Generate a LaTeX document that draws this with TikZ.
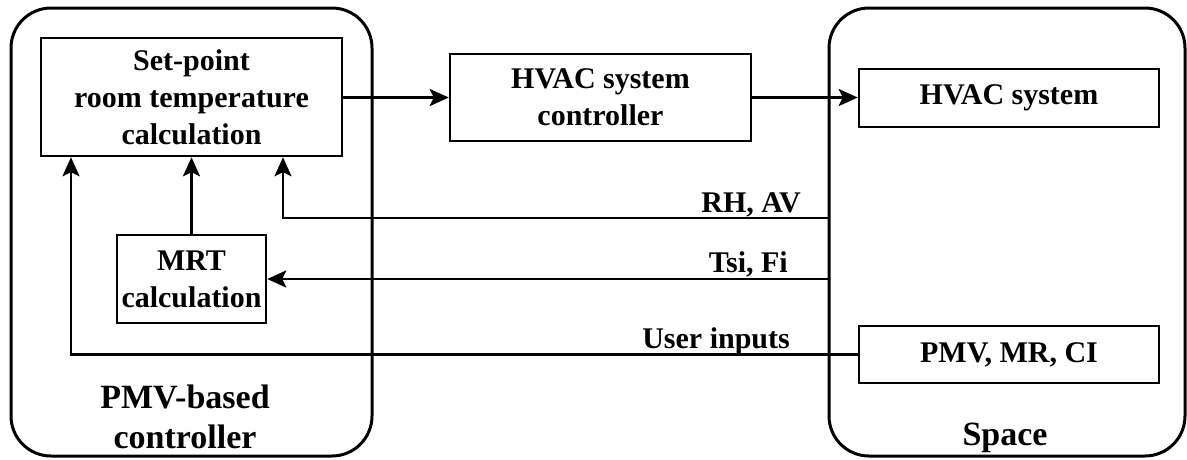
\documentclass[tikz,border=0pt]{standalone}
\usepackage{fontspec}
\setmainfont{Liberation Serif}
\usetikzlibrary{arrows.meta}
\begin{document}
\begin{tikzpicture}[x=1pt,y=-1pt,
  box/.style={draw, line width=2.5pt, inner sep=0pt, align=center, font=\bfseries\fontsize{30}{37}\selectfont},
  container/.style={draw, line width=3pt, rounded corners=40pt, inner sep=0pt},
  arr/.style={line width=2.5pt, -{Stealth[length=19pt,width=17pt,inset=4pt]}},
  lbl/.style={font=\bfseries\fontsize{30}{34}\selectfont, inner sep=0pt},
  title/.style={font=\bfseries\fontsize{34}{40}\selectfont, inner sep=0pt, align=center},
]
\useasboundingbox (0,0) rectangle (1187,459);
% containers
\node[container, minimum width=361pt, minimum height=448pt] (ctrl) at (191.5,232) {};
\node[container, minimum width=356pt, minimum height=448pt] (space) at (1007,232) {};
% boxes
\node[box, minimum width=301pt, minimum height=118pt] (sp) at (191.5,97) {Set-point\\room temperature\\calculation};
\node[box, minimum width=149pt, minimum height=88pt] (mrt) at (191.5,279) {MRT\\calculation};
\node[box, minimum width=301pt, minimum height=87pt] (hc) at (600.5,97.5) {HVAC system\\controller};
\node[box, minimum width=300pt, minimum height=58pt] (hs) at (1009,98) {HVAC system};
\node[box, minimum width=300pt, minimum height=57pt] (pmv) at (1009,354.5) {PMV, MR, CI};
% titles
\node[title, anchor=base] (ctrltitle) at (185,408) {PMV-based};
\node[title, anchor=base] (ctrltitle2) at (185,448) {controller};
\node[title, anchor=base] (spacetitle) at (1005,445) {Space};
% helper coordinates
\coordinate (rhx) at (283,0);
\coordinate (ux) at (71,0);
\coordinate (rhy) at (0,218);
% connectors
\draw[arr] (sp.east |- hc.west) -- (hc.west);
\draw[arr] (hc.east) -- (hc.east -| hs.west);
\draw[arr] (space.west |- rhy) -| (sp.south -| rhx);
\draw[arr] (space.west |- mrt.east) -- (mrt.east);
\draw[arr] (mrt.north) -- (sp.south -| mrt.north);
\draw[arr] (pmv.west) -| (sp.south -| ux);
% labels
\node[lbl, anchor=base east] (lrh) at (801,212) {RH, AV};
\node[lbl, anchor=base east] (lts) at (788,272) {Tsi, Fi};
\node[lbl, anchor=base east] (lui) at (790,348) {User inputs};
\end{tikzpicture}
\end{document}
